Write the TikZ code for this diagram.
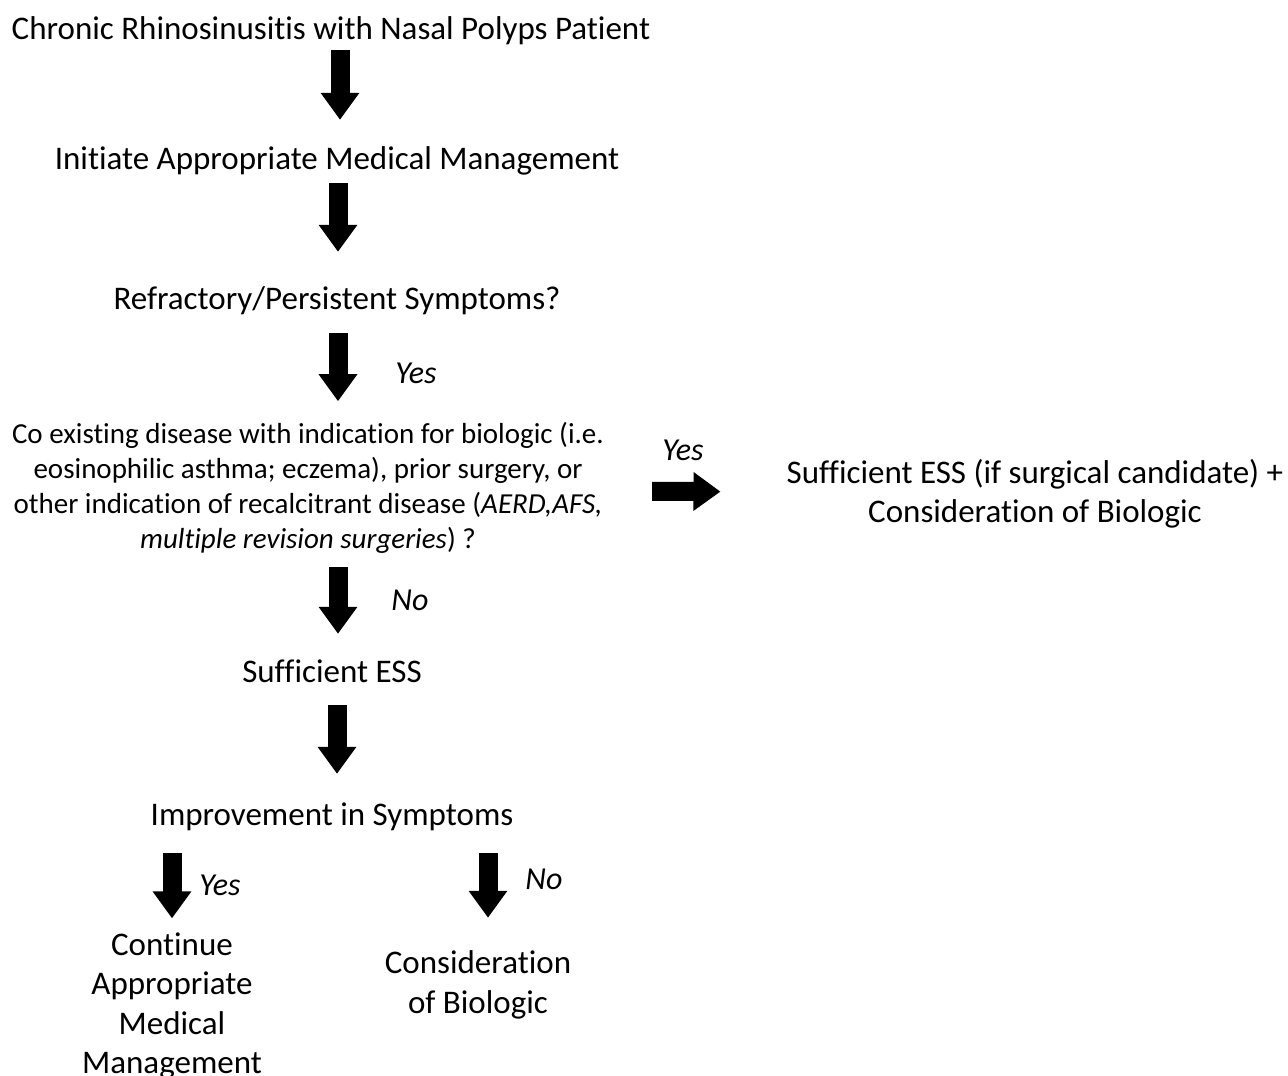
\documentclass[tikz,border=0pt]{standalone}
\usepackage{fontspec}
\setmainfont{Carlito}[Ligatures=NoCommon]
\usetikzlibrary{arrows.meta}
\tikzset{
  txt/.style={inner sep=0pt, font=\fontsize{33}{39.5}\selectfont, text height=20pt, text depth=6pt},
  mtxt/.style={inner sep=0pt, align=center, font=\fontsize{29}{35}\selectfont},
  btxt/.style={inner sep=0pt, align=center, font=\fontsize{33}{39.5}\selectfont},
  lbl/.style={inner sep=0pt, font=\fontsize{32}{38}\selectfont\itshape},
  blk/.style={line width=19pt, -{Triangle[length=27pt,width=37pt]}}
}
\begin{document}
\begin{tikzpicture}[x=1pt,y=-1pt]
\useasboundingbox[fill=white] (0,0) rectangle (1288,1076);
\node[txt] (t) at (331,32) {Chronic Rhinosinusitis with Nasal Polyps Patient};
\node[txt] (i) at (337,162) {Initiate Appropriate Medical Management};
\node[txt] (r) at (337,302) {Refractory/Persistent Symptoms?};
\node[mtxt] (q) at (308,488) {Co existing disease with indication for biologic (i.e.\\ eosinophilic asthma; eczema), prior surgery, or\\ other indication of recalcitrant disease (\textit{AERD,AFS,}\\ \textit{multiple revision surgeries}) ?};
\node[btxt] (s) at (1035,494) {Sufficient ESS (if surgical candidate) +\\ Consideration of Biologic};
\node[txt] (e) at (332,675) {Sufficient ESS};
\node[txt] (im) at (332,818) {Improvement in Symptoms};
\node[btxt] (c) at (172,1006) {Continue\\ Appropriate\\ Medical\\ Management};
\node[btxt] (b) at (478,985) {Consideration\\ of Biologic};
\node[lbl] (y1) at (416,373) {Yes};
\node[lbl] (y2) at (683,450) {Yes};
\node[lbl] (n1) at (410,600) {No};
\node[lbl] (y3) at (220,885) {Yes};
\node[lbl] (n2) at (544,879) {No};
\draw[blk, shorten <=5pt, shorten >=29pt] ([xshift=9pt]t.south) -- ([xshift=3pt]i.north);
\draw[blk, shorten <=8pt, shorten >=37pt] ([xshift=1pt]i.south) -- ([xshift=1pt]r.north);
\draw[blk, shorten <=18pt, shorten >=21pt] ([xshift=1pt]r.south) -- ([xshift=30pt]q.north);
\draw[blk, shorten <=13pt, shorten >=28pt] ([xshift=30pt]q.south) -- ([xshift=6pt]e.north);
\draw[blk, shorten <=17pt, shorten >=31pt] ([xshift=5pt]e.south) -- ([xshift=5pt]im.north);
\draw[blk, shorten <=22pt, shorten >=14pt] ([xshift=-160pt]im.south) -- (c.north);
\draw[blk, shorten <=22pt, shorten >=33pt] ([xshift=156pt]im.south) -- ([xshift=10pt]b.north);
\draw[blk, shorten <=48pt, shorten >=66pt] ([yshift=-3pt]q.east) -- ([yshift=2pt]s.west);
\end{tikzpicture}
\end{document}
